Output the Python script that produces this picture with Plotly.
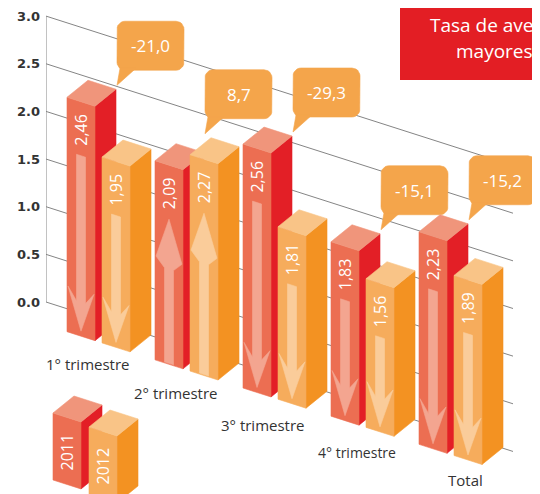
import math
import plotly.graph_objects as go

# ---------------- data ----------------
categories = ["1° trimestre", "2° trimestre", "3° trimestre", "4° trimestre", "Total"]
values_2011 = [2.46, 2.09, 2.56, 1.83, 2.23]
values_2012 = [1.95, 2.27, 1.81, 1.56, 1.89]
changes = ["-21,0", "8,7", "-29,3", "-15,1", "-15,2"]
years = ["2011", "2012"]
y_tickvals = [0.0, 0.5, 1.0, 1.5, 2.0, 2.5, 3.0]
y_ticktext = ["0.0", "0.5", "1.0", "1.5", "2.0", "2.5", "3.0"]
title_lines = ["Tasa de ave", "mayores,"]

# ---------------- layout constants ----------------
W, H = 540, 494    # window size
PAGE_PAD = 8       # default body margin of the html page
X0 = 46            # x of the vertical axis (page px)
Y0PX = 302         # page pixel row of value 0 at the axis
PPU = 95.3         # pixels per value unit
SLOPE = 0.32       # perspective drop (px per px to the right)
K = SLOPE / PPU
FRONT_W = 28
DEPTH_DX, DEPTH_DY = 21, 17
GROUP_X0, GROUP_STEP, PAIR_STEP = 67, 88, 35
BASE_AT_X0 = (Y0PX - 331.7) / PPU
GRID_X1 = 513
FONT = "Open Sans"

COLS = {
    "2011": dict(front="#EC6E52", side="#E31F26", top="#F0957B", arrow="#F3A590"),
    "2012": dict(front="#F6AC5C", side="#F39222", top="#F9C487", arrow="#FACC9A"),
}
CALLOUT = "#F4A54B"
TITLE_RED = "#E31E24"

def v_px(ypx):
    return (Y0PX - ypx) / PPU

def px_v(v):
    return Y0PX - v * PPU

def base_at(x):
    return BASE_AT_X0 - K * (x - GROUP_X0)

fig = go.Figure()

def poly(xs, ys, color):
    fig.add_trace(go.Scatter(
        x=list(xs) + [xs[0]], y=list(ys) + [ys[0]], mode="lines", fill="toself",
        fillcolor=color, line=dict(width=0.6, color=color),
        hoverinfo="skip", showlegend=False))

# ---------------- grid ----------------
for v in y_tickvals:
    fig.add_trace(go.Scatter(
        x=[X0, GRID_X1], y=[v, v - K * (GRID_X1 - X0)], mode="lines",
        line=dict(color="#858585", width=1), hoverinfo="skip", showlegend=False))
fig.add_trace(go.Scatter(x=[X0, X0], y=[y_tickvals[0], y_tickvals[-1]], mode="lines",
                         line=dict(color="#858585", width=1), hoverinfo="skip", showlegend=False))

# ---------------- 3D bar helpers ----------------
def bar3d(x0, base, h, cols):
    b0 = base
    b1 = base - K * FRONT_W
    dyv = DEPTH_DY / PPU
    xr = x0 + FRONT_W
    poly([xr, xr + DEPTH_DX, xr + DEPTH_DX, xr], [b1, b1 + dyv, b1 + dyv + h, b1 + h], cols["side"])
    poly([x0, xr, xr, x0], [b0, b1, b1 + h, b0 + h], cols["front"])
    poly([x0, xr, xr + DEPTH_DX, x0 + DEPTH_DX], [b0 + h, b1 + h, b1 + h + dyv, b0 + h + dyv], cols["top"])

def face_pts(x0, top, pts):
    xs = [x0 + u for u, d in pts]
    ys = [top - K * u - d / PPU for u, d in pts]
    return xs, ys

def arrow(x0, top, h, up, color):
    Hp = h * PPU
    c, sw = 14, 4.5
    if up:
        pts = [(c, 54), (27, 95), (c + sw, 104), (c + sw, Hp - 1),
               (c - sw, Hp - 1), (c - sw, 104), (1, 95)]
    else:
        pts = [(c - sw, 54), (c + sw, 54), (c + sw, Hp - 34), (27, Hp - 46),
               (c, Hp - 5), (1, Hp - 46), (c - sw, Hp - 34)]
    xs, ys = face_pts(x0, top, pts)
    poly(xs, ys, color)

annotations = []

def value_label(x0, top, text, dist=28):
    annotations.append(dict(
        x=x0 + FRONT_W / 2, y=top - K * FRONT_W / 2 - dist / PPU, xref="x", yref="y",
        text=text, textangle=-90, showarrow=False,
        font=dict(family=FONT, size=16, color="white")))

def rounded_rect(l, t, w, h, r, n=6):
    pts = []
    corners = [(l + w - r, t + r, -90, 0), (l + w - r, t + h - r, 0, 90),
               (l + r, t + h - r, 90, 180), (l + r, t + r, 180, 270)]
    for cx, cy, a0, a1 in corners:
        for i in range(n + 1):
            a = math.radians(a0 + (a1 - a0) * i / n)
            pts.append((cx + r * math.cos(a), cy + r * math.sin(a)))
    return pts

# ---------------- bars ----------------
label_dx = [7, 7, 6, 12, 32]
label_dy = [26, 26, 31, 28, 21]
label_size = [15, 15, 15, 14, 15]

for i, cat in enumerate(categories):
    tops = {}
    xs0 = {}
    for j, (yr, vals) in enumerate(zip(years, [values_2011, values_2012])):
        x0 = GROUP_X0 + GROUP_STEP * i + PAIR_STEP * j
        b = base_at(x0)
        h = vals[i]
        bar3d(x0, b, h, COLS[yr])
        up = values_2012[i] > values_2011[i]
        arrow(x0, b + h, h, up, COLS[yr]["arrow"])
        value_label(x0, b + h, f"{h:.2f}".replace(".", ","))
        tops[yr] = b + h
        xs0[yr] = x0

    # callout (points at the back-right top corner of the 2011 bar)
    dyv = DEPTH_DY / PPU
    br_x = xs0["2011"] + FRONT_W + DEPTH_DX
    br_y = px_v(tops["2011"] - K * FRONT_W + dyv)
    bl2_y = px_v(tops["2012"] + dyv)
    tip_x, tip_y = br_x + 1, min(br_y, bl2_y) - 4
    bw, bh = 67, 49
    left, bottom = tip_x, tip_y - 15
    rr = rounded_rect(left, bottom - bh, bw, bh, 8)
    poly([p[0] for p in rr], [v_px(p[1]) for p in rr], CALLOUT)
    tail = [(tip_x + 3, bottom - 2), (tip_x + 19, bottom - 2), (tip_x, tip_y)]
    poly([p[0] for p in tail], [v_px(p[1]) for p in tail], CALLOUT)
    annotations.append(dict(x=left + bw / 2, y=v_px(bottom - bh / 2), xref="x", yref="y",
                            text=changes[i], showarrow=False,
                            font=dict(family=FONT, size=17, color="white")))

    # category label
    lx = xs0["2011"] + FRONT_W / 2 + label_dx[i]
    ly = px_v(base_at(lx)) + label_dy[i]
    annotations.append(dict(x=lx, y=v_px(ly), xref="x", yref="y", text=cat, showarrow=False,
                            font=dict(family=FONT, size=label_size[i], color="#333333")))

# ---------------- legend (mini 3D bars) ----------------
leg_pos = [(53, 413), (89, 427)]
leg_h = 67 / PPU
for (lx, ltop), yr in zip(leg_pos, years):
    top_v = v_px(ltop)
    bar3d(lx, top_v - leg_h, leg_h, COLS[yr])
    value_label(lx, top_v, yr, dist=35)

# ---------------- title box ----------------
fig.add_shape(type="rect", xref="x", yref="y", x0=400, x1=560, y0=v_px(80), y1=v_px(-10),
              fillcolor=TITLE_RED, line=dict(width=0), layer="above")
annotations.append(dict(x=428, y=v_px(25), xref="x", yref="y", text=title_lines[0],
                        xanchor="left", showarrow=False,
                        font=dict(family=FONT, size=19, color="white")))
annotations.append(dict(x=454, y=v_px(51), xref="x", yref="y", text=title_lines[1],
                        xanchor="left", showarrow=False,
                        font=dict(family=FONT, size=19, color="white")))

# figure sits at (PAGE_PAD, PAGE_PAD) in the page; axes are expressed in page pixels
fig.update_layout(
    width=W - PAGE_PAD, height=H - PAGE_PAD,
    margin=dict(l=X0 - PAGE_PAD, r=0, t=0, b=0, pad=0, autoexpand=False),
    paper_bgcolor="white", plot_bgcolor="white",
    showlegend=False,
    annotations=annotations,
    xaxis=dict(range=[X0, W], visible=False, fixedrange=True, automargin=False),
    yaxis=dict(range=[v_px(H), v_px(PAGE_PAD)], tickvals=y_tickvals, ticktext=y_ticktext,
               showgrid=False, zeroline=False, showline=False, ticks="",
               ticklabelstandoff=5, automargin=False,
               tickfont=dict(family="DejaVu Sans", size=13, color="#333333", weight="bold"),
               fixedrange=True),
)

fig.write_html("out.html")
